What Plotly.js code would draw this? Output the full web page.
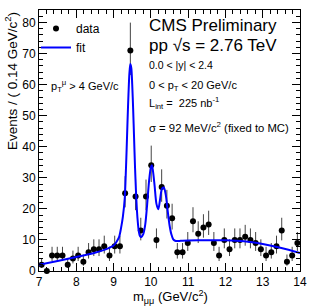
<!DOCTYPE html>
<html><head><meta charset="utf-8">
<script src="https://cdn.plot.ly/plotly-3.0.1.min.js"></script>
<style>html,body{margin:0;padding:0;background:#fff}#chart{width:322px;height:308px}</style>
</head><body><div id="chart"></div>
<script>
// Data: dimuon mass bins (0.14 GeV/c^2 wide) and counts
const binCenters = [7.07, 7.21, 7.35, 7.49, 7.63, 7.77, 7.91, 8.05, 8.19, 8.33,
  8.47, 8.61, 8.75, 8.89, 9.03, 9.17, 9.31, 9.45, 9.59, 9.73,
  9.87, 10.01, 10.15, 10.29, 10.43, 10.57, 10.71, 10.85, 10.99, 11.13,
  11.27, 11.41, 11.55, 11.69, 11.83, 11.97, 12.11, 12.25, 12.39, 12.53,
  12.67, 12.81, 12.95, 13.09, 13.23, 13.37, 13.51, 13.65, 13.79, 13.93];
const counts = [2, 0, 5, 5, 5, 2, 4, 5, 3, 6,
  7, 7, 8, 5, 8, 8, 25, 71, 24, 13,
  24, 34, 10, 27, 21, 17, 6, 6, 9, 16,
  12, 14, 15, 9, 5, 10, 7, 10, 10, 11,
  10, 9, 7, 5, 6, 8, 13, 3, 5, 9];
// Fit curve
const fitX = [7.0, 7.5, 8.0, 8.5, 8.75, 9.0, 9.05, 9.10, 9.15, 9.20, 9.25, 9.30, 9.325, 9.35, 9.375,
  9.40, 9.425, 9.45, 9.475, 9.50, 9.525, 9.55, 9.575, 9.60, 9.625, 9.65, 9.675, 9.70, 9.725,
  9.75, 9.775, 9.80, 9.85, 9.90, 9.95, 10.00, 10.025, 10.05, 10.10, 10.15, 10.20, 10.25,
  10.30, 10.35, 10.40, 10.45, 10.50, 10.55, 10.60, 10.65, 10.70, 10.80, 11.0, 11.5, 12.0,
  12.5, 13.0, 13.5, 14.0];
const fitY = [2.0, 3.2, 4.5, 5.9, 6.8, 8.2, 8.9, 9.8, 11.0, 13.8, 17.5, 23.5, 30.5, 39.0, 48.4,
  57.0, 63.7, 66.6, 65.4, 60.1, 52.1, 42.8, 33.5, 25.9, 19.8, 15.7, 12.9, 11.5, 11.0,
  11.0, 11.4, 12.0, 15.0, 21.3, 28.7, 33.4, 34.0, 32.8, 27.5, 21.6, 19.9, 23.3,
  26.5, 26.8, 24.5, 19.5, 14.8, 11.8, 10.2, 9.75, 9.65, 9.7, 9.8, 9.9, 9.9,
  9.6, 8.7, 7.4, 5.8];
const xTicks = [7, 8, 9, 10, 11, 12, 13, 14];
const yTicks = [0, 10, 20, 30, 40, 50, 60, 70, 80];

const errHi = counts.map(n => 0.5 + Math.sqrt(n + 0.25));
const errLo = counts.map(n => n > 0 ? Math.sqrt(n + 0.25) - 0.5 : 0);

const FONT = 'Liberation Sans, Arial, Helvetica, sans-serif';

const traces = [
  {
    x: binCenters, y: counts, type: 'scatter', mode: 'markers', name: 'data',
    marker: {color: '#000', size: 6},
    error_y: {type: 'data', symmetric: false, array: errHi, arrayminus: errLo,
      color: '#444', thickness: 1, width: 0},
    cliponaxis: false
  },
  {
    x: fitX, y: fitY, type: 'scatter', mode: 'lines', name: 'fit',
    line: {color: '#0000ff', width: 2, shape: 'spline', smoothing: 0.8}
  }
];

const W = 261, H = 261, L = 39, T = 10;
const px = v => (v - L) / W;
const py = v => (T + H - v) / H;

function txt(text, x, y, size, extra) {
  return Object.assign({text: text, xref: 'paper', yref: 'paper', x: px(x), y: py(y),
    xanchor: 'left', yanchor: 'middle', showarrow: false,
    font: {family: FONT, size: size, color: '#000'}}, extra || {});
}

const layout = {
  width: 322, height: 308,
  margin: {l: L, r: 22, t: T, b: 37},
  paper_bgcolor: '#fff', plot_bgcolor: '#fff',
  font: {family: FONT, size: 12, color: '#000'},
  showlegend: true,
  legend: {x: px(36), y: py(14), xanchor: 'left', yanchor: 'top',
    bgcolor: 'rgba(0,0,0,0)', font: {family: FONT, size: 12, color: '#000'},
    tracegroupgap: 0},
  xaxis: {range: [7, 14], tickvals: xTicks, ticks: 'inside', ticklen: 8, tickcolor: '#000',
    showline: true, linecolor: '#000', linewidth: 1, mirror: 'allticks',
    showgrid: false, zeroline: false, tickfont: {family: FONT, size: 12},
    minor: {dtick: 0.2, ticks: 'inside', ticklen: 4, tickcolor: '#000', showgrid: false}},
  yaxis: {range: [0, 84], tickvals: yTicks, ticks: 'inside', ticklen: 8, tickcolor: '#000',
    showline: true, linecolor: '#000', linewidth: 1, mirror: 'allticks',
    showgrid: false, zeroline: false, tickfont: {family: FONT, size: 12},
    minor: {dtick: 2, ticks: 'inside', ticklen: 4, tickcolor: '#000', showgrid: false}},
  annotations: [
    txt('CMS Preliminary', 147, 25, 17),
    txt('pp √s = 2.76 TeV', 147, 45, 17),
    txt('0.0 < |y| < 2.4', 147, 65, 10.5),
    txt('0 < p<sub>T</sub> < 20 GeV/c', 147, 86, 11),
    txt('L<sub>int</sub> =  225 nb<sup>-1</sup>', 147, 103, 11),
    txt('σ = 92 MeV/c<sup>2</sup> (fixed to MC)', 147, 127, 11.3),
    txt('p<sub>T</sub><sup>μ</sup> > 4 GeV/c', 49, 86, 11),
    txt('Events / ( 0.14 GeV/c<sup>2</sup>)', 11, 10, 13.5,
      {textangle: -90, xanchor: 'center', yanchor: 'top'}),
    txt('m<sub>μμ</sub> (GeV/c<sup>2</sup>)', 170, 297, 13, {xanchor: 'center'})
  ]
};

Plotly.newPlot('chart', traces, layout, {displayModeBar: false, staticPlot: true});
</script>
</body></html>
